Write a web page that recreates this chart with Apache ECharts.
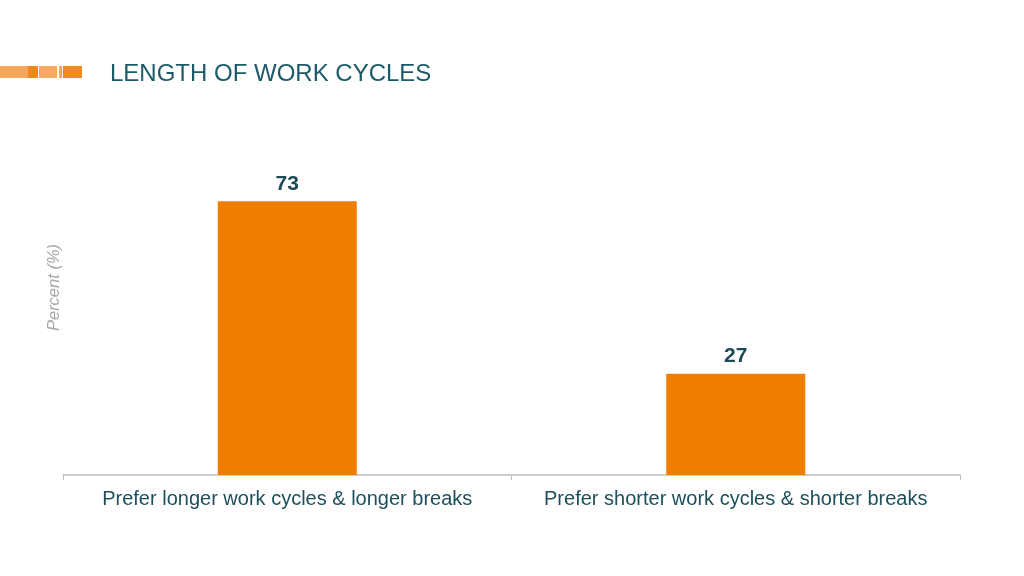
<!DOCTYPE html>
<html lang="en">
<head>
  <meta charset="utf-8">
  <title>Length of work cycles</title>
  <script src="https://cdn.jsdelivr.net/npm/echarts@6/dist/echarts.min.js"></script>
  <style>
    html, body { margin: 0; padding: 0; background: #fff; }
    #chart { width: 1024px; height: 576px; }
  </style>
</head>
<body>
<div id="chart"></div>
<script>
// data
var categories = ['Prefer longer work cycles & longer breaks', 'Prefer shorter work cycles & shorter breaks'];
var percents = [73, 27];

var chart = echarts.init(document.getElementById('chart'));

var option = {
  animation: false,
  textStyle: { fontFamily: 'Liberation Sans, Arial, sans-serif' },
  title: {
    text: 'LENGTH OF WORK CYCLES',
    left: 105,
    top: 57,
    textStyle: { color: '#1b5a68', fontSize: 24, fontWeight: 'normal' }
  },
  // orange strip at top left
  graphic: [
    { type: 'rect', left: 0, top: 66, shape: { width: 28, height: 12 }, style: { fill: '#f6a55c' } },
    { type: 'rect', left: 28, top: 66, shape: { width: 10, height: 12 }, style: { fill: '#ee8a1c' } },
    { type: 'rect', left: 39, top: 66, shape: { width: 18, height: 12 }, style: { fill: '#f5a963' } },
    { type: 'rect', left: 59, top: 66, shape: { width: 3, height: 12 }, style: { fill: '#f4a35a' } },
    { type: 'rect', left: 63, top: 66, shape: { width: 19, height: 12 }, style: { fill: '#f08a22' } }
  ],
  grid: { left: 63, right: 64, top: 100, bottom: 101 },
  xAxis: {
    type: 'category',
    data: categories,
    axisLine: { lineStyle: { color: '#bdbdbd', width: 1.5 } },
    axisTick: { show: true, length: 5, lineStyle: { color: '#bdbdbd' } },
    axisLabel: { color: '#1d4f5c', fontSize: 20, margin: 14, interval: 0 }
  },
  yAxis: {
    type: 'value',
    min: 0,
    max: 100,
    name: 'Percent (%)',
    nameLocation: 'middle',
    nameGap: 0,
    nameTextStyle: { color: '#a8a8a8', fontSize: 16.5, fontStyle: 'italic' },
    axisLine: { show: false },
    axisTick: { show: false },
    axisLabel: { show: false },
    splitLine: { show: false }
  },
  series: [{
    type: 'bar',
    data: percents,
    barWidth: 139,
    itemStyle: { color: '#ee7d00' },
    label: {
      show: true,
      position: 'top',
      distance: 7,
      color: '#1c4a56',
      fontSize: 21,
      fontWeight: 'bold'
    }
  }]
};

chart.setOption(option);
</script>
</body>
</html>
